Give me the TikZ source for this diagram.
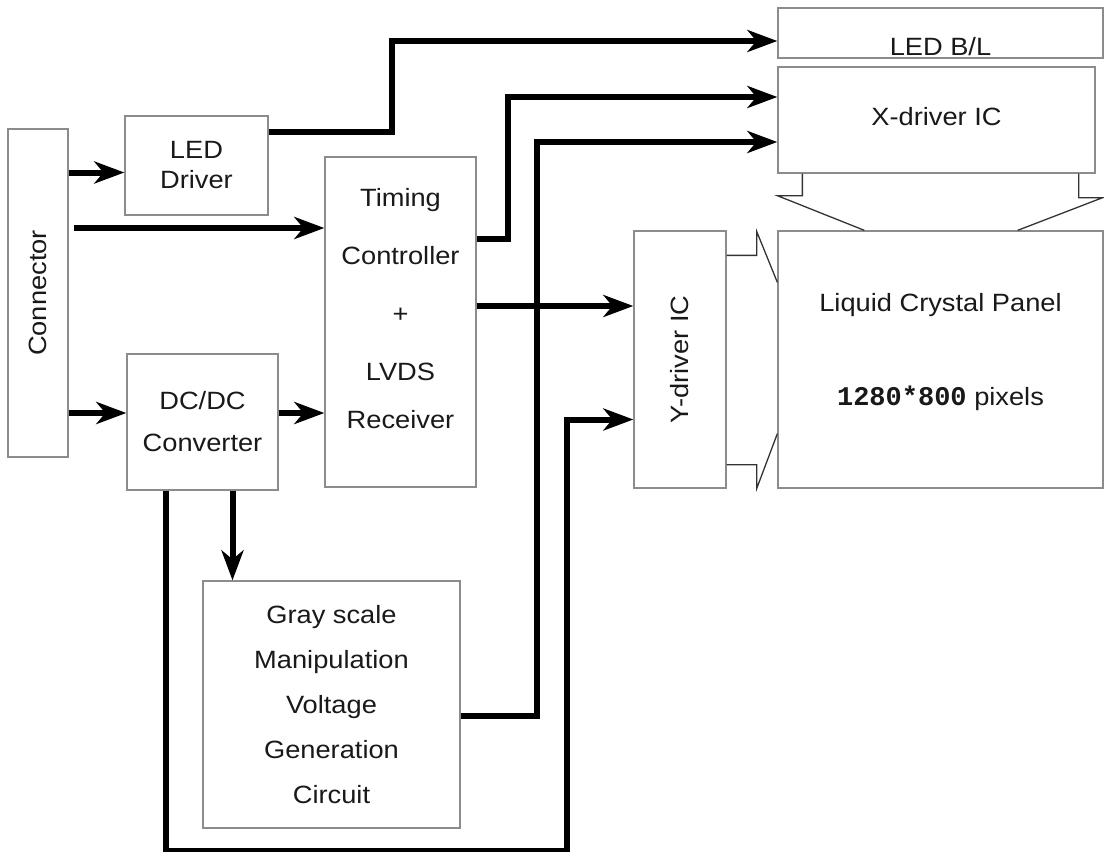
\documentclass[tikz,border=0pt]{standalone}
\usepackage{fontspec}
\setmainfont{Liberation Sans}[FakeStretch=1.09]
\newfontfamily\pixfont{Liberation Mono}
\usepackage{graphicx}
\usetikzlibrary{arrows.meta,calc}

\begin{document}
\begin{tikzpicture}[
    x=1pt, y=-1pt,
    font=\fontsize{25}{30}\selectfont,
    >={Stealth[length=30pt,width=22pt,inset=9pt]},
    blk/.style={draw=black!45, line width=1.3pt, align=center,
                inner sep=0pt, text=black!90},
    sig/.style={->, line width=6pt},
    lead/.style={line width=1.3pt, black!80},
  ]
  \useasboundingbox (0,0) rectangle (1104,852);

  %% ---- left column ----------------------------------------------
  \node[blk, minimum width=60pt,  minimum height=328pt] (conn) at ( 38,293)
    {\rotatebox{90}{Connector}};
  \node[blk, minimum width=143pt, minimum height=99pt]  (ledd) at (196.5,165.5)
    {LED\\[0pt]Driver};
  \node[blk, minimum width=151pt, minimum height=136pt] (dcdc) at (202.5,422)
    {DC/DC\\[12pt]Converter};
  \node[blk, minimum width=151pt, minimum height=330pt] (tcon) at (400.5,322)
    {Timing\\[28pt]Controller\\[28pt]+\\[28pt]LVDS\\[18pt]Receiver\rule[-27pt]{0pt}{27pt}};
  \node[blk, minimum width=257pt, minimum height=247pt] (gray) at (331.5,704.5)
    {Gray scale\\[15pt]Manipulation\\[15pt]Voltage\\[15pt]Generation\\[15pt]Circuit};

  %% ---- panel side ---------------------------------------------------
  \node[blk, minimum width=325pt, minimum height=50pt, text height=44pt, text depth=0pt]
    (ledbl) at (940.5,33) {LED B/L};
  \node[blk, minimum width=317pt, minimum height=106pt, text height=10pt, text depth=0pt]
    (xdrv) at (936.5,120) {X-driver IC};
  \node[blk, minimum width=92pt,  minimum height=257pt] (ydrv) at (680,359.5)
    {\rotatebox{90}{Y-driver IC}};
  \node[blk, minimum width=325pt, minimum height=257pt] (panel) at (940.5,359.5)
    {Liquid Crystal Panel\\[64pt]{\pixfont\bfseries\fontsize{27}{30}\selectfont 1280*800} pixels\rule[-21pt]{0pt}{21pt}};

  %% ---- driver leads into the panel ----------------------------------
  \draw[lead] ($(xdrv.south west)+(25,0)$) -- ++(0,22) -- ++(-25,0)
              -- ($(panel.north west)+(87,0)$);
  \draw[lead] ($(xdrv.south east)+(-17,0)$) -- ++(0,24) -- ++(24,0)
              -- ($(panel.north east)+(-86,0)$);
  \draw[lead] ($(ydrv.north east)+(0,25)$) -- ++(30,0) -- ++(0,-24)
              -- ($(panel.north west)+(0,52)$);
  \draw[lead] ($(ydrv.south east)+(0,-24)$) -- ++(30,0) -- ++(0,24)
              -- ($(panel.south west)+(0,-55)$);

  %% ---- connector outputs -------------------------------------------
  \draw[sig] ($(conn.east |- ledd.west)+(0,7)$) -- ($(ledd.west)+(0,7)$);
  \draw[sig] ($(conn.east |- tcon.west)+(5,-94)$) -- ($(tcon.west)+(0,-94)$);
  \draw[sig] ($(conn.east |- dcdc.west)+(0,-9)$) -- ($(dcdc.west)+(0,-9)$);
  \draw[sig] ($(dcdc.east)+(0,-9)$) -- ($(dcdc.east -| tcon.west)+(0,-9)$);

  %% ---- to the panel drivers ------------------------------------------
  \draw[sig] ($(ledd.east)+(0,-34)$) -- ++(123,0) |- ($(ledbl.west)+(0,8)$);
  \draw[sig] ($(tcon.east)+(0,-83)$) -- ++(31,0) |- ($(xdrv.west)+(0,-23)$);
  \draw[sig] ($(gray.east)+(0,11)$) -- ++(76,0) |- ($(xdrv.west)+(0,22)$);
  \draw[sig] ($(tcon.east)+(0,-16)$) -- ($(tcon.east -| ydrv.west)+(0,-16)$);

  %% ---- power rails ---------------------------------------------------
  \draw[sig] ($(dcdc.south)+(30,0)$) -- ($(dcdc.south |- gray.north)+(30,0)$);
  \draw[sig] ($(dcdc.south)+(-37,0)$) -- ++(0,360) -| ($(ydrv.west)+(-66,60)$)
             -- ($(ydrv.west)+(0,60)$);

\end{tikzpicture}
\end{document}
